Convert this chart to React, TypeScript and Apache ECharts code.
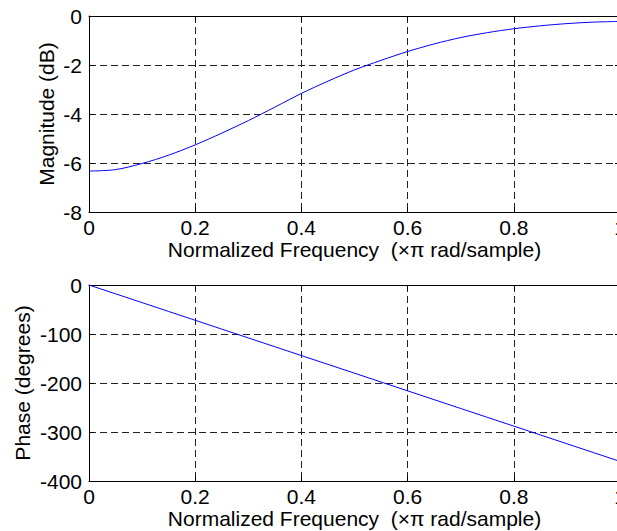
import React, { useEffect, useRef } from "react";
import * as echarts from "echarts";

const freq = [0, 0.05, 0.1, 0.15, 0.2, 0.25, 0.3, 0.35, 0.4, 0.45, 0.5, 0.55, 0.6, 0.65, 0.7, 0.75, 0.8, 0.85, 0.9, 0.95, 1.0];
const magnitudeDb = [-6.33, -6.27, -6.02, -5.68, -5.26, -4.78, -4.27, -3.72, -3.16, -2.66, -2.2, -1.81, -1.45, -1.14, -0.88, -0.68, -0.52, -0.4, -0.31, -0.25, -0.22];
const phaseDeg = [0, -18, -36, -54, -72, -90, -108, -126, -144, -162, -180, -198, -216, -234, -252, -270, -288, -306, -324, -342, -360];
const xTitle = "Normalized Frequency  (\u00d7\u03c0 rad/sample)";
const magTitle = "Magnitude (dB)";
const phaseTitle = "Phase (degrees)";

const FONT = "'Liberation Sans', Arial, Helvetica, sans-serif";
const FS = 21;

export default function App() {
  const ref = useRef<HTMLDivElement>(null);
  useEffect(() => {
    if (!ref.current) return;
    const chart = echarts.init(ref.current, null, { renderer: "svg" });
    const grid = { lineStyle: { color: "#222", width: 1, type: [7, 4] } };
    const axisLine = { show: true, onZero: false, lineStyle: { color: "#000", width: 1 } };
    const tick = { show: true, inside: true, length: 5, lineStyle: { color: "#000" } };
    const xBottom = (gi: number) => ({
      type: "value",
      gridIndex: gi,
      position: "bottom",
      min: 0,
      max: 1,
      interval: 0.2,
      axisLine,
      axisTick: tick,
      splitLine: { show: true, ...grid },
      axisLabel: { color: "#000", fontFamily: FONT, fontSize: FS, margin: 5, formatter: (v: number) => String(+v.toFixed(1)) },
      name: xTitle,
      nameLocation: "middle",
      nameGap: 27,
      nameMoveOverlap: false,
      nameTextStyle: { color: "#000", fontFamily: FONT, fontSize: FS },
    });
    const xTop = (gi: number) => ({
      type: "value",
      gridIndex: gi,
      position: "top",
      min: 0,
      max: 1,
      interval: 0.2,
      axisLine,
      axisTick: tick,
      splitLine: { show: false },
      axisLabel: { show: false },
    });
    const yLeft = (gi: number, min: number, interval: number, name: string, gap: number) => ({
      type: "value",
      gridIndex: gi,
      position: "left",
      min,
      max: 0,
      interval,
      axisLine,
      axisTick: tick,
      splitLine: { show: true, ...grid },
      axisLabel: { color: "#000", fontFamily: FONT, fontSize: FS, margin: 7 },
      name,
      nameLocation: "middle",
      nameGap: gap,
      nameMoveOverlap: false,
      nameTextStyle: { color: "#000", fontFamily: FONT, fontSize: FS },
    });
    const yRight = (gi: number, min: number, interval: number) => ({
      type: "value",
      gridIndex: gi,
      position: "right",
      min,
      max: 0,
      interval,
      axisLine,
      axisTick: tick,
      splitLine: { show: false },
      axisLabel: { show: false },
    });
    chart.setOption({
      animation: false,
      backgroundColor: "#fff",
      grid: [
        { left: 89, top: 16, width: 531, height: 196, outerBoundsMode: "none", containLabel: false },
        { left: 89, top: 285, width: 531, height: 196, outerBoundsMode: "none", containLabel: false },
      ],
      xAxis: [xBottom(0), xTop(0), xBottom(1), xTop(1)],
      yAxis: [yLeft(0, -8, 2, magTitle, 32), yRight(0, -8, 2), yLeft(1, -400, 100, phaseTitle, 56), yRight(1, -400, 100)],
      series: [
        {
          type: "line",
          xAxisIndex: 0,
          yAxisIndex: 0,
          data: freq.map((f, i) => [f, magnitudeDb[i]]),
          showSymbol: false,
          smooth: 0.3,
          lineStyle: { color: "#0000ff", width: 1 },
        },
        {
          type: "line",
          xAxisIndex: 2,
          yAxisIndex: 2,
          data: freq.map((f, i) => [f, phaseDeg[i]]),
          showSymbol: false,
          lineStyle: { color: "#0000ff", width: 1 },
        },
      ],
    });
    return () => chart.dispose();
  }, []);
  return <div ref={ref} style={{ position: "fixed", left: 0, top: 0, width: 617, height: 531 }} />;
}
